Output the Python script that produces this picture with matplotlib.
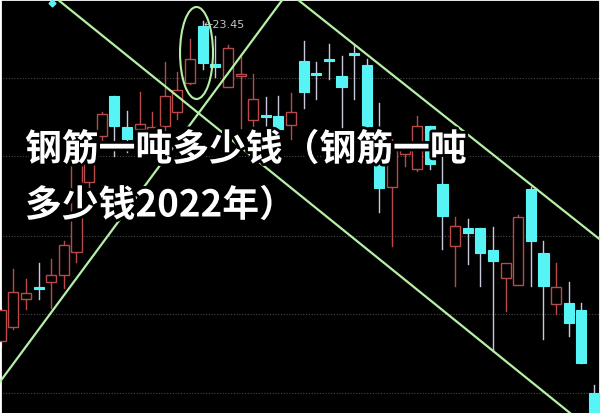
import matplotlib
matplotlib.use("Agg")
import matplotlib.pyplot as plt
import matplotlib.patheffects as pe
from matplotlib.patches import Rectangle, Ellipse

# daily candles (price axis)
opens = [20.25, 20.39, 20.67, 20.79, 20.84, 20.91, 21.14, 21.84, 22.30, 22.70,
         22.39, 22.37, 22.27, 22.40, 22.54, 22.83, 23.40, 23.02, 22.79, 22.90,
         22.46, 22.51, 22.50, 22.41, 23.05, 22.93, 23.07, 22.90, 23.13, 23.01,
         22.15, 21.79, 22.12, 21.97, 22.40, 21.82, 21.20, 21.38, 21.38, 21.16,
         20.88, 20.81, 21.77, 21.13, 20.62, 20.63, 20.56, 19.73]
highs = [20.59, 20.97, 20.87, 21.03, 21.07, 21.25, 22.12, 22.22, 22.54, 22.70,
         22.55, 22.74, 22.54, 23.04, 22.94, 23.27, 23.45, 23.30, 23.21, 23.12,
         22.92, 22.69, 22.70, 22.73, 23.25, 23.04, 23.22, 23.10, 23.21, 23.07,
         22.63, 22.27, 22.24, 22.50, 22.40, 22.17, 21.49, 21.47, 21.38, 21.39,
         21.03, 21.51, 21.79, 21.25, 21.03, 20.84, 20.63, 19.81]
lows = [20.19, 20.37, 20.57, 20.67, 20.58, 20.78, 21.04, 21.77, 22.17, 22.10,
        22.14, 22.17, 22.17, 22.30, 22.47, 22.82, 22.97, 22.89, 22.79, 22.38,
        22.33, 22.35, 22.34, 22.27, 22.58, 22.67, 22.87, 22.35, 22.67, 22.39,
        21.54, 21.20, 22.00, 21.95, 21.97, 21.17, 20.80, 21.02, 20.80, 20.15,
        20.55, 20.81, 20.80, 20.27, 20.52, 20.30, 20.03, 19.40]
closes = [20.56, 20.74, 20.73, 20.77, 20.91, 21.21, 22.02, 22.05, 22.52, 22.40,
          22.27, 22.42, 22.39, 22.70, 22.76, 23.07, 23.03, 22.99, 23.18, 22.92,
          22.67, 22.49, 22.37, 22.54, 22.74, 22.91, 23.05, 22.79, 23.11, 22.40,
          21.78, 22.19, 22.17, 22.40, 22.02, 21.50, 21.40, 21.33, 21.13, 21.05,
          21.03, 21.49, 21.25, 20.80, 20.79, 20.43, 20.03, 19.40]

grid_levels = [22.88, 22.10, 21.30, 20.52, 19.73]

# hand drawn trend lines (two anchor points each)
trend_lines = [((4.46, 23.67), (45.1, 19.53)),
               ((0.10, 19.87), (22.36, 23.67)),
               ((23.47, 23.67), (47.33, 21.28))]

peak_idx = 16
peak_label = "23.45"

title1 = "钢筋一吨多少钱（钢筋一吨"
title2 = "多少钱2022年）"

up_col = "#b84a4a"
down_col = "#56f4f4"
down_wick = "#c9c9dd"
line_col = "#b6f0a6"

fig = plt.figure(figsize=(6.0, 4.14), dpi=100)
fig.patch.set_facecolor("black")
ax = fig.add_axes([0, 0, 1, 1])
ax.set_facecolor("black")

for lv in grid_levels:
    ax.axhline(lv, color="#4a4a4a", lw=0.8, ls=(0, (1, 1.5)), zorder=1)

w = 0.8
for i in range(len(opens)):
    o, h, l, c = opens[i], highs[i], lows[i], closes[i]
    top, bot = max(o, c), min(o, c)
    if c > o:
        ax.plot([i, i], [top, h], color=up_col, lw=1, zorder=2)
        ax.plot([i, i], [l, bot], color=up_col, lw=1, zorder=2)
        ax.add_patch(Rectangle((i - w / 2, bot), w, top - bot, facecolor="black",
                               edgecolor=up_col, lw=1, zorder=3))
    else:
        ax.plot([i, i], [l, h], color=down_wick, lw=1, zorder=2)
        ax.add_patch(Rectangle((i - w / 2, bot), w, max(top - bot, 0.02),
                               facecolor=down_col, edgecolor=down_col, lw=0.8, zorder=3))

for p1, p2 in trend_lines:
    ax.axline(p1, p2, color=line_col, lw=1.6, zorder=4)

ax.add_patch(Ellipse((15.51, 23.13), 2.61, 0.92, fill=False, edgecolor=line_col,
                     lw=1.5, zorder=4))
ax.text(peak_idx + 0.1, highs[peak_idx] - 0.03, "←" + peak_label, color="#c4c4c4",
        fontsize=8, ha="left", va="center", zorder=5)
ax.plot([4.06], [23.63], marker="D", ms=3.5, color=down_col, zorder=5)

ax.set_xlim(-0.06, 47.48)
ax.set_ylim(19.53, 23.67)
ax.set_xticks([])
ax.set_yticks([])
for side in ["top", "left", "right"]:
    ax.spines[side].set_color("white")
    ax.spines[side].set_linewidth(2)
ax.spines["bottom"].set_visible(False)

fx = [pe.withStroke(linewidth=4, foreground="black")]
fig.text(25 / 600, 1 - 151 / 414, title1, color="white", fontsize=26.5,
         fontweight="bold", family=["Noto Sans CJK SC", "DejaVu Sans"],
         ha="left", va="center", path_effects=fx, zorder=10)
fig.text(25 / 600, 1 - 207 / 414, title2, color="white", fontsize=26.5,
         fontweight="bold", family=["Noto Sans CJK SC", "DejaVu Sans"],
         ha="left", va="center", path_effects=fx, zorder=10)

fig.savefig("out.png", dpi=100, facecolor="black")
